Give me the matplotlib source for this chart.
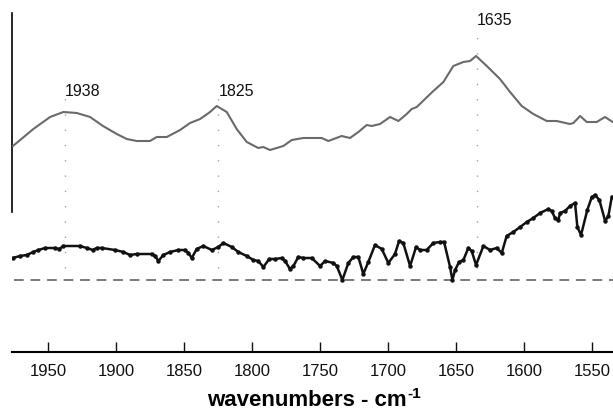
import matplotlib
matplotlib.use("Agg")
import matplotlib.pyplot as plt

plt.rcParams['font.family'] = ['Liberation Sans', 'DejaVu Sans']

# Upper spectrum (wavenumber in cm-1, absorbance in a.u.)
upper_wn = [1976, 1961.0, 1948.7, 1938.9, 1929.1, 1919.3, 1909.8, 1899.7, 1892.3, 1885.0,
            1875.2, 1870.3, 1862.9, 1853.1, 1845.8, 1838.4, 1831.1, 1826.2, 1818.8, 1811.5,
            1804.1, 1795.6, 1791.9, 1787.0, 1777.2, 1771.0, 1762.5, 1749.0, 1744.1, 1734.3,
            1728.2, 1722.0, 1715.9, 1712.2, 1706.1, 1698.7, 1692.6, 1686.5, 1682.8, 1679.1,
            1673.0, 1666.9, 1659.5, 1652.2, 1644.8, 1639.9, 1635.5, 1627.6, 1617.9, 1610.5,
            1601.9, 1593.4, 1583.5, 1576.2, 1566.4, 1563.9, 1559.0, 1554.1, 1546.8, 1540.7,
            1535.0]
upper_abs = [1.34, 1.51, 1.63, 1.68, 1.67, 1.63, 1.54, 1.46, 1.41, 1.39,
             1.39, 1.43, 1.43, 1.50, 1.57, 1.61, 1.68, 1.74, 1.68, 1.51,
             1.38, 1.32, 1.33, 1.30, 1.34, 1.40, 1.42, 1.42, 1.39, 1.44,
             1.42, 1.48, 1.55, 1.54, 1.56, 1.63, 1.59, 1.66, 1.71, 1.73,
             1.81, 1.89, 1.98, 2.14, 2.18, 2.19, 2.24, 2.14, 2.01, 1.88,
             1.74, 1.66, 1.59, 1.59, 1.56, 1.57, 1.64, 1.58, 1.58, 1.63,
             1.58]

# Lower spectrum
lower_wn = [1976.2, 1970.8, 1965.9, 1961.0, 1957.3, 1952.4, 1945.1, 1941.9, 1939.0, 1926.7,
            1921.7, 1917.3, 1914.4, 1910.7, 1901.0, 1894.8, 1889.9, 1885.0, 1874.0, 1871.5,
            1869.1, 1865.4, 1860.5, 1854.4, 1849.5, 1847.0, 1844.5, 1840.9, 1836.0, 1829.8,
            1825.0, 1821.3, 1815.1, 1810.3, 1804.1, 1799.2, 1795.6, 1791.9, 1787.5, 1783.3,
            1778.4, 1775.9, 1772.3, 1769.8, 1766.2, 1762.5, 1756.3, 1750.2, 1746.5, 1740.4,
            1737.9, 1733.8, 1729.4, 1725.7, 1722.0, 1718.4, 1714.7, 1709.8, 1704.8, 1700.0,
            1695.1, 1692.1, 1689.0, 1684.0, 1679.6, 1676.7, 1671.8, 1666.9, 1662.0, 1659.0,
            1654.6, 1652.9, 1650.9, 1648.0, 1644.8, 1641.2, 1638.7, 1635.5, 1630.1, 1625.2,
            1620.3, 1616.6, 1613.0, 1608.1, 1603.1, 1598.2, 1593.4, 1588.4, 1582.3, 1579.9,
            1577.4, 1575.0, 1573.7, 1570.1, 1566.4, 1562.7, 1561.0, 1558.3, 1553.7, 1550.4,
            1548.0, 1544.8, 1540.6, 1538.2, 1535.7]
lower_abs = [0.22, 0.24, 0.25, 0.28, 0.30, 0.32, 0.32, 0.31, 0.34, 0.34,
             0.32, 0.30, 0.32, 0.32, 0.30, 0.28, 0.25, 0.26, 0.26, 0.24,
             0.19, 0.25, 0.28, 0.30, 0.30, 0.27, 0.22, 0.31, 0.34, 0.30,
             0.33, 0.37, 0.33, 0.28, 0.24, 0.20, 0.19, 0.13, 0.21, 0.21,
             0.22, 0.19, 0.11, 0.14, 0.23, 0.22, 0.22, 0.14, 0.19, 0.17,
             0.14, 0.00, 0.17, 0.23, 0.23, 0.06, 0.18, 0.35, 0.31, 0.17,
             0.26, 0.39, 0.37, 0.14, 0.33, 0.30, 0.30, 0.37, 0.38, 0.38,
             0.13, 0.00, 0.10, 0.18, 0.20, 0.32, 0.29, 0.15, 0.34, 0.30,
             0.32, 0.27, 0.44, 0.48, 0.53, 0.58, 0.62, 0.67, 0.71, 0.69,
             0.62, 0.60, 0.67, 0.69, 0.74, 0.77, 0.53, 0.45, 0.70, 0.83,
             0.85, 0.80, 0.59, 0.64, 0.83]

# Band positions marked on the upper spectrum
peak_wn = [1938, 1825, 1635]
peak_labels = ["1938", "1825", "1635"]
peak_line_top = [1.95, 1.95, 2.51]
peak_label_y = [1.82, 1.82, 2.53]

xticks = [1950, 1900, 1850, 1800, 1750, 1700, 1650, 1600, 1550]

fig = plt.figure(figsize=(6.13, 4.14), dpi=100)
ax = fig.add_axes([12 / 613, 61 / 414, 601 / 613, 353 / 414])

ax.set_xlim(1976.7, 1534.8)
ax.set_ylim(-0.72, 2.81)

# Dotted guide lines at band maxima
for wn, top in zip(peak_wn, peak_line_top):
    ax.plot([wn, wn], [0.12, top], color="#a0a0a0", lw=1.0,
            linestyle=(0, (1, 10)), zorder=1)
for wn, lab, ly in zip(peak_wn, peak_labels, peak_label_y):
    ax.text(wn, ly, lab, fontsize=11.5, ha="left", va="bottom", color="#111111")

# Baseline of the lower spectrum
ax.axhline(0.0, xmin=0.003, color="#7a7a7a", lw=1.4, linestyle=(0, (5, 3.5)), zorder=2)

ax.plot(upper_wn, upper_abs, color="#6a6a6a", lw=1.5, zorder=3)
ax.plot(lower_wn, lower_abs, color="#111111", lw=1.8, marker="o",
        markersize=2.2, zorder=4)

# Spines: bottom axis plus a short absorbance scale bar on the left
for side in ("top", "right"):
    ax.spines[side].set_visible(False)
ax.spines["left"].set_bounds(0.68, 2.67)
ax.spines["left"].set_linewidth(1.2)
ax.spines["bottom"].set_linewidth(1.5)
ax.set_yticks([])

ax.set_xticks(xticks)
ax.set_xticklabels([str(t) for t in xticks])
ax.tick_params(axis="x", direction="in", length=7, width=1, labelsize=12,
               pad=8, colors="#111111")

# Axis title with a small raised "-1" exponent
xlab = ax.set_xlabel("wavenumbers - cm", fontsize=16, fontweight="bold", labelpad=8)
xlab.set_x(0.49)
fig.canvas.draw()
bb = xlab.get_window_extent(fig.canvas.get_renderer())
fig.text((bb.x1 + 1) / fig.bbox.width, (bb.y1 - 11) / fig.bbox.height, "-1",
         fontsize=11, fontweight="bold", ha="left", va="bottom")

fig.savefig("out.png", dpi=100)
